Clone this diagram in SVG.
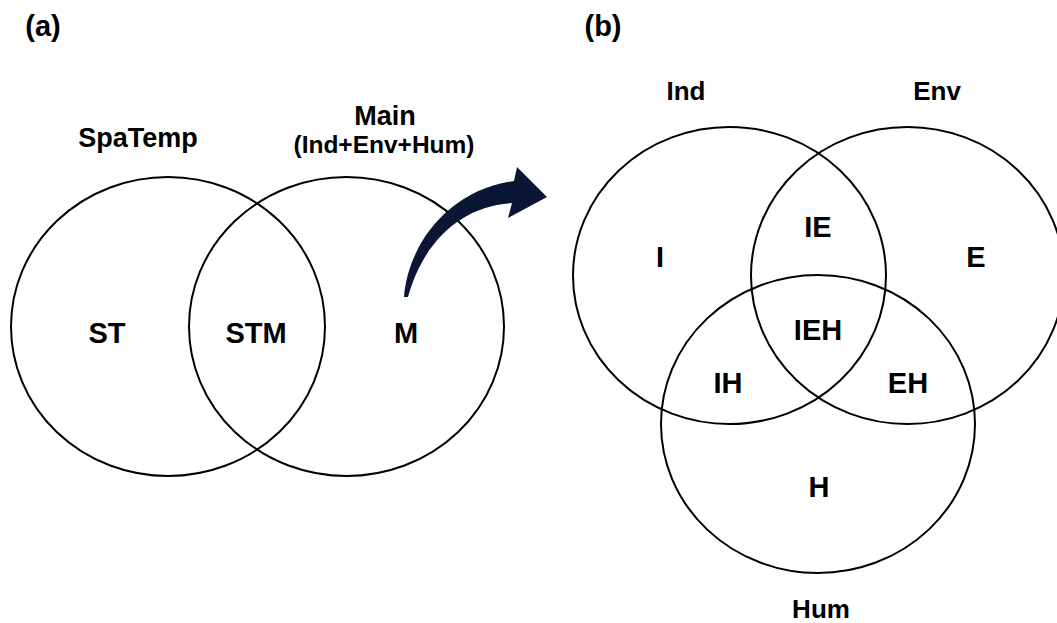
<svg xmlns="http://www.w3.org/2000/svg" width="1057" height="623" viewBox="0 0 1057 623">
<style>
.c{fill:none;stroke:#000;stroke-width:2}
.t{font-family:"Liberation Sans",Arial,sans-serif;font-weight:bold;fill:#000;text-anchor:middle}
.lab{font-size:26px}
.big{font-size:29px}
</style>
<rect width="1057" height="623" fill="#fff"/>
<text class="t" style="font-size:29px" x="43" y="36">(a)</text>
<text class="t" style="font-size:29px" x="603" y="36">(b)</text>
<g id="spatemp"><ellipse class="c" cx="168" cy="326.5" rx="157" ry="149.5"/><text class="t" style="font-size:27px" x="138" y="147">SpaTemp</text><text class="t big" x="107" y="343">ST</text></g>
<g id="main"><ellipse class="c" cx="346.5" cy="326.5" rx="157.5" ry="149.5"/><text class="t" style="font-size:27px" x="385" y="125">Main</text><text class="t" style="font-size:24.5px" x="384" y="153">(Ind+Env+Hum)</text><text class="t big" x="406" y="343">M</text></g>
<g id="stm"><text class="t big" x="256" y="343">STM</text></g>
<g id="ind"><ellipse class="c" cx="729.5" cy="275.5" rx="156.5" ry="148.5"/><text class="t lab" x="686" y="100">Ind</text><text class="t big" x="660" y="267">I</text></g>
<g id="env"><ellipse class="c" cx="907.5" cy="275.5" rx="156.5" ry="148.5"/><text class="t lab" x="937" y="100">Env</text><text class="t big" x="976" y="267">E</text></g>
<g id="hum"><ellipse class="c" cx="818" cy="424" rx="157" ry="149"/><text class="t lab" x="821" y="618">Hum</text><text class="t big" x="819" y="497">H</text></g>
<g id="ie"><text class="t big" x="818" y="237">IE</text></g>
<g id="ieh"><text class="t big" x="818" y="340">IEH</text></g>
<g id="ih"><text class="t big" x="728" y="393">IH</text></g>
<g id="eh"><text class="t big" x="908" y="393">EH</text></g>
<g id="connectors">
<path fill="#0a1633" d="M404 297 C408 245 448 190 514 181 L517 167 L547 197 L508 218 L512 203 C462 206 424 240 408 297 Z"/>
</g>
</svg>
